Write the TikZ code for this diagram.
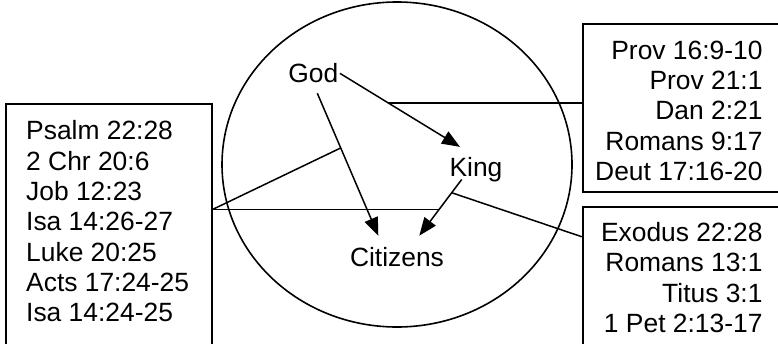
\documentclass[tikz,border=0pt]{standalone}
\usepackage{fontspec}
\setmainfont{Liberation Sans}
\usetikzlibrary{arrows.meta,calc}
\begin{document}
\begin{tikzpicture}[x=1pt,y=-1pt,
  every node/.style={font=\fontsize{26.4}{30.3}\selectfont},
  lbl/.style={inner sep=0pt, anchor=base},
  refbox/.style={draw, line width=1.8pt, inner sep=0pt},
  reftext/.style={inner sep=0pt},
  arr/.style={line width=1.5pt, -{Triangle[length=18pt,width=14pt]}},
  callout/.style={line width=1.5pt}]
\useasboundingbox (0,0) rectangle (778,343);
\clip (0,0) rectangle (778,343);
\fill[white] (0,0) rectangle (778,343);

% big circle
\draw[line width=1.6pt] (397,164.5) ellipse [x radius=175, y radius=162.5];

% reference boxes
\node[refbox, anchor=north west, minimum width=206.5pt, minimum height=300pt] (LB) at (4.7,103.3) {};
\node[refbox, anchor=north west, minimum width=250pt, minimum height=167.7pt] (TR) at (581.7,23.3) {};
\node[refbox, anchor=north west, minimum width=250pt, minimum height=200pt] (BR) at (581.7,205.7) {};

\node[reftext, anchor=north west, align=left] (LT) at (26,120.5)
  {Psalm 22:28\\2 Chr 20:6\\Job 12:23\\Isa 14:26-27\\Luke 20:25\\Acts 17:24-25\\Isa 14:24-25};
\node[reftext, anchor=north east, align=right] (TT) at (762.7,40.5)
  {Prov 16:9-10\\Prov 21:1\\Dan 2:21\\Romans 9:17\\Deut 17:16-20};
\node[reftext, anchor=north east, align=right] (BT) at (762.7,222.2)
  {Exodus 22:28\\Romans 13:1\\Titus 3:1\\1 Pet 2:13-17};

% actors
\node[lbl] (God) at (313.3,82.8) {God};
\node[lbl] (King) at (476,176.2) {King};
\node[lbl] (Cit) at (397,266.8) {Citizens};

% arrows
\draw[arr] ($(God.east)+(1.5,0)$) -- ($(King.north)+(-16,-10)$)
  coordinate[pos=0.4] (gk);
\draw[arr] ($(God.south)+(4,10)$) -- ($(Cit.north)+(-18.7,-11.8)$)
  coordinate[pos=0.384] (gc);
\draw[arr] ($(King.south)+(-14.3,-2.4)$) -- ($(Cit.north)+(22.3,-11.8)$)
  coordinate[pos=0.236] (kc1) coordinate[pos=0.53] (kc2);

% callout lines
\coordinate (lp) at (LB.east |- kc2);
\draw[callout] (gk) -- (gk -| TR.west);
\draw[callout] (lp) -- (gc);
\draw[callout] (lp) -- (kc2);
\draw[callout] (kc1) -- ($(BR.north west)+(0,31)$);
\end{tikzpicture}
\end{document}
